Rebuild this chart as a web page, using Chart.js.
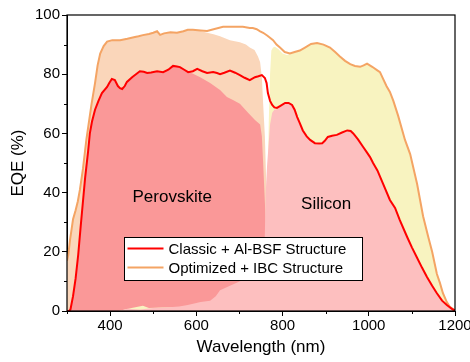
<!DOCTYPE html>
<html>
<head>
<meta charset="utf-8">
<script src="https://cdn.jsdelivr.net/npm/chart.js@4"></script>
<style>
html,body{margin:0;padding:0;background:#fff;}
canvas{display:block;}
</style>
</head>
<body>
<canvas id="c" width="470" height="362"></canvas>
<script>
// ---- Data ----
// Classic + Al-BSF total EQE (red line)
const classicX = [300,305,308,314,320,326,332,337,342,349,353,358,365,373,381,393,398,404,411,418,423,428,434,439,451,460,469,478,486,495,509,523,535,546,555,562,572,581,592,602,614,625,639,648,655,665,678,690,701,712,724,736,744,752,759,763,766,771,776,781,787,795,806,814,822,828,834,840,847,856,864,875,885,892,898,905,915,926,938,950,958,964,975,987,996,1003,1010,1020,1033,1049,1061,1072,1089,1100,1112,1124,1135,1147,1158,1170,1181,1195,1200];
const classicY = [0,0,0.5,5,11,19,29,37,45,54,60,64,68,71,73.6,75.7,77,78.4,78,76,75.3,75,76,77.4,79,80,81,80.8,80.4,80.6,81,80.7,81.5,82.8,82.6,82.4,81.5,80.7,81,81.8,81,80.4,80.7,80.4,80,80.5,81.2,80.5,79.7,78.8,78,79,79.3,79.7,78.7,77,73.6,71,69.6,68.8,68.6,69.3,70.3,70.3,69.6,68,65.5,63.5,61,59,57.8,56.7,56.6,56.7,57.5,58.8,59.2,59.5,60.3,61,60.8,60,58,55.4,53.5,52,50,47.5,43,37.5,34.8,30.7,25,21.5,18,14.5,11.5,8.5,6,3.5,2,0.5,0.2];

// Optimized + IBC total EQE (orange line)
const optimX = [300,303,307,310,314,320,325,330,337,345,350,357,365,371,377,385,393,405,423,440,455,466,476,490,500,509,516,525,540,555,570,580,592,610,625,640,662,685,708,724,731,740,748,755,765,778,786,794,805,817,828,840,852,866,880,895,910,922,933,945,957,968,980,988,996,1008,1019,1026,1033,1041,1049,1057,1068,1084,1096,1112,1126,1138,1147,1158,1165,1172,1181,1188,1200];
const optimY = [17,19,24,27,31,34,37,41,48,58,63,70,77,83,87,89.5,91,91.5,91.5,92,92.5,92.8,93.2,93.6,94,94.5,93.3,93.8,94.2,94,94.5,95,95,94.8,94.6,95.2,96,96,96,95.6,95.6,95.2,94.5,94,93,91.5,90,89,87.5,87,87.5,88,89,90.2,90.5,90,89,87.5,86,84.5,83.4,82.8,82.5,83,83.6,82.5,81.4,80.7,78.5,76,74,71,66,57.8,53,43,32,25,20,12.5,9.5,6,3,1.4,0.2];

// Perovskite sub-cell, optimized (peach fill)
const peroOptX = [300,303,307,310,314,320,325,330,337,345,350,357,365,371,377,385,393,405,423,440,455,466,476,490,500,509,516,525,540,555,570,580,592,609,625,640,655,678,701,715,724,735,743,748,752,755,759,762,765,768,1200];
const peroOptY = [17,19,24,27,31,34,37,41,48,58,63,70,77,83,87,89.5,91,91.5,91.5,92,92.5,92.8,93.2,93.6,94,94.5,93.3,93.8,94.2,94,94.5,95,95,94.6,94,93.5,92.8,91.5,90.8,90,89,88.2,86,84,79,70,59,44,22,0,0];

// Perovskite sub-cell, classic (red fill)
const peroClsX = [300,305,308,314,320,326,332,337,342,349,353,358,365,373,381,393,398,404,411,418,423,428,434,439,451,460,469,478,486,495,509,523,535,546,555,562,572,585,609,632,655,671,685,701,720,736,748,752,755,758,761,763,765,1200];
const peroClsY = [0,0,0.5,5,11,19,29,37,45,54,60,64,68,71,73.6,75.7,77,78.4,78,76,75.3,75,76,77.4,79,80,81,80.8,80.4,80.6,81,80.7,81.5,82.8,82.6,82.4,81.5,80.7,79,77,74.7,72.3,71.3,70,67,64.5,63,59,50,40,30,15,0,0];

// Silicon sub-cell, optimized (yellow fill)
const siOptX = [300,420,450,476,490,520,560,600,640,700,740,755,760,764,766,768,771,774,778,782,790,800,810,817,828,840,852,866,880,895,910,922,933,945,957,968,980,988,996,1008,1019,1026,1033,1041,1049,1057,1068,1084,1096,1112,1126,1138,1147,1158,1165,1172,1181,1188,1200];
const siOptY = [0,0,1,1.8,1,1.2,1.3,2,3,8,11,13,15,30,45,64,80,88,89,89.3,88.5,87,86.5,86.8,87.3,88,89,90.2,90.5,90,89,87.5,86,84.5,83.4,82.8,82.5,83,83.6,82.5,81.4,80.7,78.5,76,74,71,66,57.8,53,43,32,25,20,12.5,9.5,6,3,1.4,0.2];

// Silicon sub-cell, classic (pink fill)
const siClsX = [300,420,440,470,500,530,560,580,610,632,645,655,678,700,717,735,748,755,758,761,764,767,771,776,781,787,795,806,814,822,828,834,840,847,856,864,875,885,892,898,905,915,926,938,950,958,964,975,987,996,1003,1010,1020,1033,1049,1061,1072,1089,1100,1112,1124,1135,1147,1158,1170,1181,1195,1200];
const siClsY = [0,0,0.8,0.5,1,1.2,1.5,2,3,3.5,5,7,8.5,10,11,12,13,14,20,40,49,55,63,67,68,68.2,69,70,70,69.3,67.7,65.2,63.2,60.7,58.7,57.5,56.4,56.3,56.4,57.2,58.5,58.9,59.2,60,60.7,60.5,59.7,57.7,55.1,53.2,51.7,49.7,47.2,42.7,37.2,34.5,30.4,24.7,21.2,17.7,14.2,11.2,8.2,5.7,3.2,1.7,0.3,0];

// Axes ticks
const xTicks = [400,600,800,1000,1200];
const xMinorTicks = [300,500,700,900,1100];
const yTicks = [0,20,40,60,80,100];
const yMinorTicks = [10,30,50,70,90];

// Labels
const seriesNames = ['Classic + Al-BSF Structure','Optimized + IBC Structure'];
const regionLabels = ['Perovskite','Silicon'];
const regionLabelX = [544,901];
const regionLabelY = [38.5,36];

const FONT = '"Liberation Sans", Arial, Helvetica, sans-serif';
const pts = (xs, ys) => xs.map((x, i) => ({x: x, y: ys[i]}));

const fillDs = (label, xs, ys, color) => ({
  label: label, data: pts(xs, ys), fill: 'origin', backgroundColor: color,
  borderColor: 'rgba(0,0,0,0)', borderWidth: 0, pointRadius: 0, tension: 0
});

const decorPlugin = {
  id: 'decor',
  afterDatasetsDraw(chart) {
    const ctx = chart.ctx;
    const xs = chart.scales.x, ys = chart.scales.y;
    const a = chart.chartArea;
    ctx.save();
    // frame
    ctx.strokeStyle = '#000';
    ctx.lineWidth = 1.2;
    ctx.strokeRect(a.left, a.top, a.right - a.left, a.bottom - a.top);
    // minor ticks
    ctx.lineWidth = 1;
    ctx.beginPath();
    xMinorTicks.forEach(v => {
      const px = Math.round(xs.getPixelForValue(v)) + 0.5;
      ctx.moveTo(px, a.bottom); ctx.lineTo(px, a.bottom + 3);
    });
    yMinorTicks.forEach(v => {
      const py = Math.round(ys.getPixelForValue(v)) + 0.5;
      ctx.moveTo(a.left, py); ctx.lineTo(a.left - 3, py);
    });
    ctx.stroke();
    // region labels
    ctx.fillStyle = '#000';
    ctx.font = '17px ' + FONT;
    ctx.textAlign = 'center';
    ctx.textBaseline = 'middle';
    regionLabels.forEach((t, i) => {
      ctx.fillText(t, xs.getPixelForValue(regionLabelX[i]), ys.getPixelForValue(regionLabelY[i]));
    });
    // legend box
    const bx = a.left + 57.5, by = a.top + 222.5, bw = 238, bh = 43;
    ctx.fillStyle = '#fff';
    ctx.fillRect(bx, by, bw, bh);
    ctx.strokeStyle = '#000';
    ctx.lineWidth = 1;
    ctx.strokeRect(bx, by, bw, bh);
    const colors = [chart.data.datasets[0].borderColor, chart.data.datasets[1].borderColor];
    ctx.font = '15px ' + FONT;
    ctx.textAlign = 'left';
    seriesNames.forEach((t, i) => {
      const yy = by + 11 + i * 19;
      ctx.strokeStyle = colors[i];
      ctx.lineWidth = 2;
      ctx.beginPath(); ctx.moveTo(bx + 3, yy); ctx.lineTo(bx + 39, yy); ctx.stroke();
      ctx.fillStyle = '#000';
      ctx.fillText(t, bx + 44, yy + 1);
    });
    ctx.restore();
  }
};

new Chart(document.getElementById('c'), {
  type: 'line',
  data: {
    datasets: [
      {label: seriesNames[0], data: pts(classicX, classicY), borderColor: '#FF0000', borderWidth: 2, fill: false, pointRadius: 0, tension: 0},
      {label: seriesNames[1], data: pts(optimX, optimY), borderColor: '#F4A464', borderWidth: 2, fill: false, pointRadius: 0, tension: 0},
      fillDs('Si classic', siClsX, siClsY, '#FDBFBF'),
      fillDs('Si optimized', siOptX, siOptY, '#F8F3C0'),
      fillDs('Perovskite classic', peroClsX, peroClsY, '#FA9898'),
      fillDs('Perovskite optimized', peroOptX, peroOptY, '#FAD6BA')
    ]
  },
  options: {
    responsive: false,
    animation: false,
    devicePixelRatio: 1,
    layout: {padding: {top: 15, right: 15, left: 0, bottom: 0}},
    plugins: {legend: {display: false}, tooltip: {enabled: false}},
    scales: {
      x: {
        type: 'linear', min: 300, max: 1200,
        afterBuildTicks: s => { s.ticks = xTicks.map(v => ({value: v})); },
        afterFit: s => { s.height = 51; s.paddingLeft = 0; s.paddingRight = 0; },
        grid: {drawOnChartArea: false, drawTicks: true, tickLength: 5, color: '#000'},
        border: {display: true, color: '#000', width: 1},
        ticks: {color: '#000', font: {family: FONT, size: 15}, padding: 1, maxRotation: 0, callback: v => String(v)},
        title: {display: true, text: 'Wavelength (nm)', color: '#000', font: {family: FONT, size: 17}, padding: {top: 0, bottom: 4}}
      },
      y: {
        type: 'linear', min: 0, max: 100,
        afterBuildTicks: s => { s.ticks = yTicks.map(v => ({value: v})); },
        afterFit: s => { s.width = 67; s.paddingTop = 0; s.paddingBottom = 0; },
        grid: {drawOnChartArea: false, drawTicks: true, tickLength: 5, color: '#000'},
        border: {display: true, color: '#000', width: 1},
        ticks: {color: '#000', font: {family: FONT, size: 15}, padding: 2, callback: v => String(v)},
        title: {display: true, text: 'EQE (%)', color: '#000', font: {family: FONT, size: 17}, padding: {top: 8, bottom: 0}}
      }
    }
  },
  plugins: [decorPlugin]
});
</script>
</body>
</html>
